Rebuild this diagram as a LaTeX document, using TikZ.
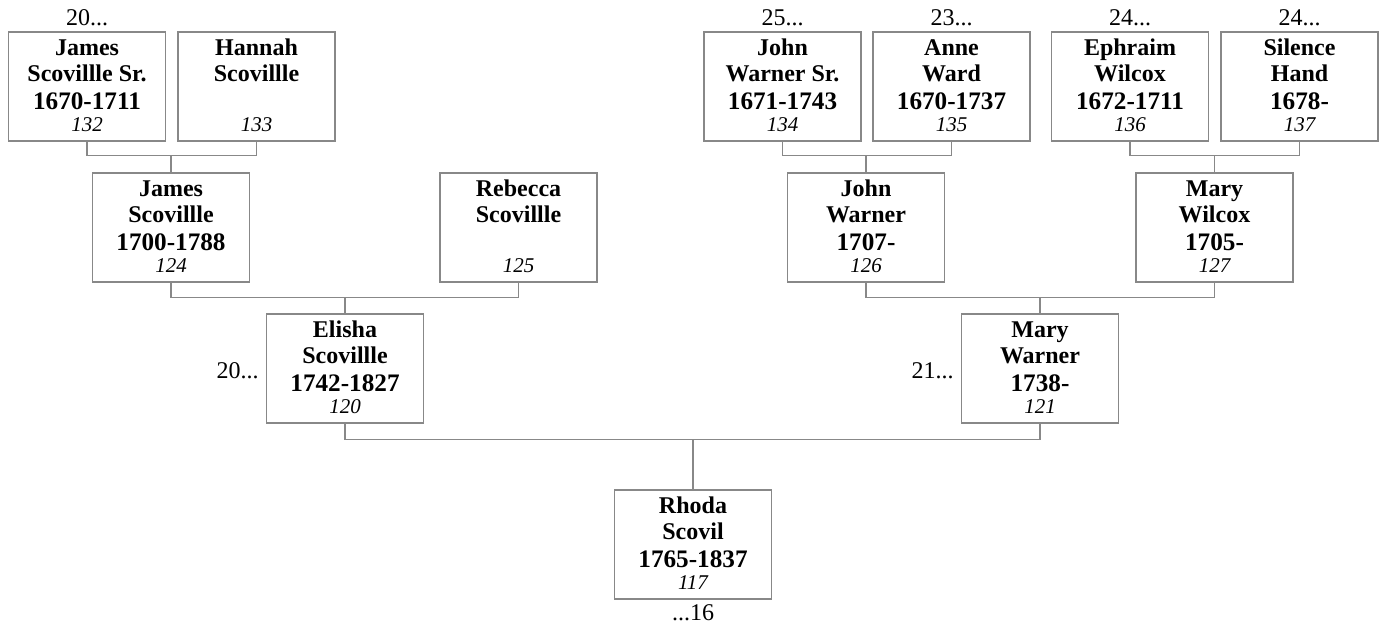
\documentclass[tikz,border=0pt]{standalone}
\usepackage{fontspec}
\setmainfont{Liberation Serif}
\usetikzlibrary{positioning, calc}

\definecolor{linegray}{RGB}{136,136,136}

% one person: box plus its four text lines
\newcommand{\person}[5]{%
  \node[pbox] (p#1) at (#2) {};
  \node[nametext] (p#1a) at ([yshift=-24pt]p#1.north) {#3};
  \node[nametext] (p#1b) at ([yshift=-50pt]p#1.north) {#4};
  \node[yeartext] (p#1c) at ([yshift=-78pt]p#1.north) {#5};
  \node[numtext]  (p#1d) at ([yshift=-100pt]p#1.north) {#1};
}

\begin{document}
\begin{tikzpicture}[
  x=1pt, y=-1pt,
  pbox/.style     = {draw=linegray, line width=1.3pt, minimum width=157pt,
                     minimum height=109pt, inner sep=0pt},
  nametext/.style = {anchor=base, inner sep=0pt,
                     font=\fontsize{24}{27}\selectfont\bfseries},
  yeartext/.style = {anchor=base, inner sep=0pt,
                     font=\fontsize{25.2}{28}\selectfont\bfseries},
  numtext/.style  = {anchor=base, inner sep=0pt,
                     font=\fontsize{21}{24}\selectfont\itshape},
  gentext/.style  = {anchor=base, inner sep=0pt,
                     font=\fontsize{24}{27}\selectfont},
  link/.style     = {draw=linegray, line width=1.3pt}
]
\useasboundingbox (0,0) rectangle (1383,630);

%--------------------------------------------------
% great-grandparents
%--------------------------------------------------
\person{132}{87,86.5}{James}{Scovillle Sr.}{1670-1711}
\person{133}{256.5,86.5}{Hannah}{Scovillle}{}
\person{134}{782.5,86.5}{John}{Warner Sr.}{1671-1743}
\person{135}{951.5,86.5}{Anne}{Ward}{1670-1737}
\person{136}{1130,86.5}{Ephraim}{Wilcox}{1672-1711}
\person{137}{1299.5,86.5}{Silence}{Hand}{1678-}

%--------------------------------------------------
% grandparents
%--------------------------------------------------
\person{124}{171,227.5}{James}{Scovillle}{1700-1788}
\person{125}{518.5,227.5}{Rebecca}{Scovillle}{}
\person{126}{866,227.5}{John}{Warner}{1707-}
\person{127}{1214.5,227.5}{Mary}{Wilcox}{1705-}

%--------------------------------------------------
% parents and child
%--------------------------------------------------
\person{120}{345,368.5}{Elisha}{Scovillle}{1742-1827}
\person{121}{1040,368.5}{Mary}{Warner}{1738-}
\person{117}{693,544.5}{Rhoda}{Scovil}{1765-1837}

%--------------------------------------------------
% generation marks
%--------------------------------------------------
\node[gentext] (g132) at ([yshift=6pt]p132.north) {20...};
\node[gentext] (g134) at ([yshift=6pt]p134.north) {25...};
\node[gentext] (g135) at ([yshift=6pt]p135.north) {23...};
\node[gentext] (g136) at ([yshift=6pt]p136.north) {24...};
\node[gentext] (g137) at ([yshift=6pt]p137.north) {24...};
\node[gentext, anchor=base east] (g120)
  at ([xshift=-7pt, yshift=-65pt]p120.north west) {20...};
\node[gentext, anchor=base east] (g121)
  at ([xshift=-7pt, yshift=-65pt]p121.north west) {21...};
\node[gentext] (g117) at ([yshift=-21pt]p117.south) {...16};

%--------------------------------------------------
% family lines
%--------------------------------------------------
\draw[link] (p132.south) -- ++(0,14) coordinate (j1) -| (p133.south);
\draw[link] (p124.north) -- (p124.north |- j1);
\draw[link] (p134.south) -- ++(0,14) coordinate (j2) -| (p135.south);
\draw[link] (p126.north) -- (p126.north |- j2);
\draw[link] (p136.south) -- ++(0,14) coordinate (j3) -| (p137.south);
\draw[link] (p127.north) -- (p127.north |- j3);

\draw[link] (p124.south) -- ++(0,15) coordinate (j4) -| (p125.south);
\draw[link] (p120.north) -- (p120.north |- j4);
\draw[link] (p126.south) -- ++(0,15) coordinate (j5) -| (p127.south);
\draw[link] (p121.north) -- (p121.north |- j5);

\draw[link] (p120.south) -- ++(0,16) coordinate (j6) -| (p121.south);
\draw[link] (p117.north) -- (p117.north |- j6);

\end{tikzpicture}
\end{document}
